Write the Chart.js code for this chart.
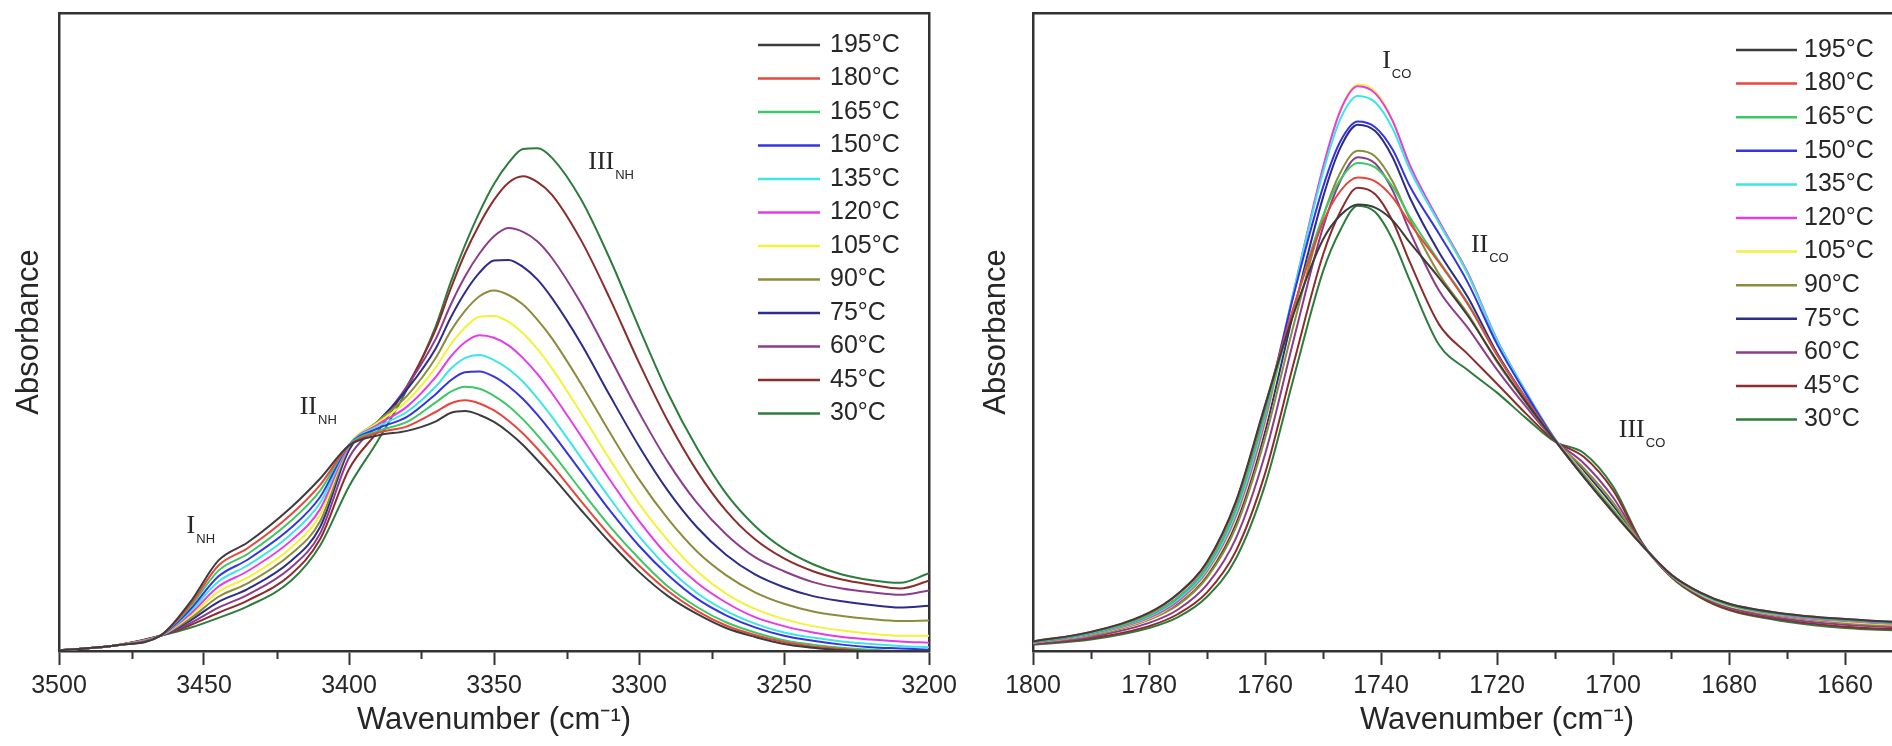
<!DOCTYPE html>
<html><head><meta charset="utf-8">
<script src="https://cdn.jsdelivr.net/npm/chart.js@4.4.0/dist/chart.umd.min.js"></script>
<style>
html,body{margin:0;padding:0;background:#fff;overflow:hidden;width:1892px;height:746px;position:relative;}
#cL{position:absolute;left:0;top:0;}
#cR{position:absolute;left:946px;top:0;}
</style></head><body>
<canvas id="cL" width="990" height="746"></canvas>
<canvas id="cR" width="1050" height="746"></canvas>
<script>
// ---------- data ----------
const temps = ['195°C','180°C','165°C','150°C','135°C','120°C','105°C','90°C','75°C','60°C','45°C','30°C'];
const colors = ['#3c3c3c','#e8463c','#3cc864','#3434e6','#3ce6e6','#e63ce6','#f2f23a','#8c8c3c','#2c2c8c','#8c3c8c','#8c2c2c','#2c7c3c'];

// N-H region (left panel)
const nhWavenumber = [3500,3480,3465,3455,3445,3435,3420,3410,3400,3390,3380,3370,3365,3360,3355,3350,3345,3340,3335,3330,3320,3310,3300,3290,3280,3270,3260,3250,3240,3230,3220,3210,3200];
const nh195 = [0.001,0.009,0.024,0.075,0.142,0.170,0.225,0.270,0.322,0.338,0.345,0.360,0.373,0.376,0.370,0.359,0.343,0.323,0.299,0.274,0.221,0.170,0.124,0.086,0.058,0.036,0.022,0.011,0.005,0.001,0.000,0.000,0.000];
const nh180 = [0.001,0.009,0.024,0.071,0.134,0.161,0.214,0.260,0.322,0.342,0.352,0.375,0.388,0.393,0.388,0.377,0.361,0.341,0.317,0.291,0.235,0.181,0.134,0.094,0.063,0.040,0.025,0.014,0.007,0.003,0.000,0.000,0.000];
const nh165 = [0.001,0.009,0.024,0.068,0.126,0.152,0.204,0.251,0.323,0.345,0.359,0.390,0.406,0.414,0.411,0.400,0.384,0.363,0.338,0.311,0.252,0.195,0.145,0.101,0.069,0.045,0.029,0.017,0.010,0.005,0.002,0.000,0.000];
const nh150 = [0.001,0.009,0.024,0.064,0.117,0.143,0.193,0.241,0.323,0.349,0.367,0.403,0.424,0.437,0.438,0.430,0.415,0.395,0.370,0.342,0.281,0.220,0.165,0.119,0.082,0.056,0.037,0.024,0.016,0.010,0.006,0.004,0.002];
const nh135 = [0.001,0.009,0.024,0.061,0.109,0.134,0.183,0.232,0.323,0.352,0.375,0.415,0.442,0.459,0.464,0.456,0.442,0.422,0.396,0.367,0.303,0.239,0.180,0.130,0.091,0.063,0.043,0.029,0.021,0.015,0.011,0.008,0.006];
const nh120 = [0.001,0.009,0.024,0.057,0.101,0.125,0.173,0.222,0.322,0.355,0.383,0.430,0.461,0.484,0.495,0.491,0.479,0.459,0.434,0.404,0.337,0.268,0.204,0.149,0.107,0.076,0.053,0.039,0.029,0.022,0.018,0.015,0.013];
const nh105 = [0.001,0.009,0.024,0.054,0.093,0.115,0.162,0.213,0.322,0.358,0.392,0.445,0.480,0.507,0.524,0.525,0.516,0.498,0.473,0.443,0.373,0.300,0.231,0.173,0.125,0.090,0.066,0.050,0.039,0.032,0.027,0.024,0.024];
const nh90  = [0.001,0.009,0.024,0.050,0.085,0.106,0.152,0.203,0.320,0.360,0.400,0.460,0.501,0.533,0.556,0.565,0.558,0.543,0.519,0.490,0.419,0.342,0.269,0.207,0.156,0.119,0.092,0.074,0.062,0.055,0.050,0.047,0.048];
const nh75  = [0.001,0.009,0.024,0.047,0.077,0.097,0.141,0.194,0.315,0.360,0.410,0.475,0.522,0.562,0.593,0.612,0.613,0.602,0.582,0.553,0.482,0.400,0.321,0.251,0.194,0.151,0.120,0.100,0.086,0.078,0.072,0.068,0.071];
const nh60  = [0.001,0.009,0.024,0.043,0.068,0.088,0.131,0.184,0.303,0.355,0.415,0.490,0.542,0.587,0.623,0.650,0.663,0.657,0.642,0.616,0.545,0.460,0.374,0.296,0.232,0.183,0.147,0.125,0.108,0.098,0.092,0.088,0.095];
const nh45  = [0.001,0.009,0.024,0.040,0.060,0.079,0.120,0.175,0.285,0.345,0.415,0.505,0.567,0.623,0.669,0.707,0.734,0.744,0.735,0.715,0.644,0.552,0.452,0.360,0.282,0.220,0.175,0.145,0.125,0.112,0.104,0.098,0.110];
const nh30  = [0.001,0.009,0.024,0.036,0.052,0.070,0.110,0.165,0.258,0.330,0.410,0.510,0.577,0.636,0.688,0.732,0.765,0.787,0.788,0.773,0.708,0.614,0.507,0.404,0.318,0.247,0.196,0.160,0.136,0.120,0.111,0.107,0.122];

// C=O region (right panel)
const coWavenumber = [1800,1790,1780,1775,1770,1765,1760,1755,1750,1747,1744,1741,1738,1735,1730,1725,1720,1715,1710,1705,1700,1695,1690,1685,1680,1670,1660,1650,1640];
const co195 = [0.015,0.030,0.060,0.090,0.140,0.235,0.385,0.530,0.645,0.683,0.700,0.695,0.675,0.640,0.585,0.525,0.455,0.390,0.330,0.272,0.218,0.166,0.120,0.092,0.074,0.058,0.050,0.045,0.042];
const co180 = [0.015,0.030,0.059,0.089,0.138,0.233,0.384,0.541,0.672,0.721,0.742,0.736,0.711,0.670,0.609,0.543,0.464,0.395,0.330,0.272,0.217,0.166,0.120,0.092,0.074,0.058,0.050,0.045,0.042];
const co165 = [0.014,0.028,0.056,0.084,0.132,0.223,0.371,0.538,0.682,0.739,0.765,0.758,0.728,0.680,0.611,0.545,0.464,0.395,0.330,0.275,0.221,0.166,0.120,0.091,0.073,0.057,0.049,0.044,0.041];
const co150 = [0.014,0.028,0.056,0.084,0.132,0.224,0.375,0.560,0.727,0.799,0.830,0.821,0.786,0.728,0.654,0.577,0.481,0.403,0.331,0.273,0.218,0.166,0.120,0.091,0.073,0.057,0.049,0.044,0.041];
const co135 = [0.014,0.027,0.054,0.081,0.128,0.217,0.368,0.566,0.750,0.834,0.870,0.860,0.819,0.754,0.671,0.590,0.487,0.406,0.332,0.274,0.219,0.166,0.120,0.090,0.072,0.056,0.048,0.043,0.040];
const co120 = [0.013,0.026,0.052,0.078,0.125,0.212,0.361,0.565,0.758,0.847,0.885,0.874,0.831,0.761,0.674,0.592,0.488,0.406,0.332,0.276,0.221,0.166,0.119,0.090,0.072,0.055,0.047,0.042,0.039];
const co105 = [0.013,0.026,0.051,0.077,0.122,0.207,0.355,0.561,0.757,0.848,0.888,0.877,0.832,0.760,0.671,0.589,0.486,0.405,0.332,0.278,0.223,0.166,0.119,0.089,0.071,0.055,0.046,0.041,0.039];
const co90  = [0.013,0.024,0.049,0.072,0.115,0.194,0.333,0.513,0.680,0.750,0.784,0.775,0.736,0.676,0.591,0.528,0.453,0.389,0.330,0.286,0.233,0.167,0.118,0.088,0.070,0.053,0.044,0.039,0.037];
const co75  = [0.013,0.025,0.050,0.075,0.119,0.201,0.344,0.534,0.711,0.789,0.825,0.815,0.774,0.710,0.625,0.554,0.467,0.396,0.331,0.282,0.228,0.167,0.119,0.089,0.070,0.054,0.045,0.040,0.038];
const co60  = [0.012,0.022,0.044,0.065,0.104,0.177,0.308,0.490,0.664,0.737,0.774,0.764,0.722,0.657,0.565,0.506,0.441,0.383,0.330,0.294,0.241,0.168,0.118,0.087,0.068,0.050,0.041,0.037,0.034];
const co45  = [0.011,0.020,0.039,0.058,0.092,0.157,0.278,0.453,0.621,0.689,0.726,0.716,0.674,0.609,0.512,0.465,0.419,0.372,0.329,0.304,0.252,0.169,0.117,0.085,0.065,0.048,0.038,0.034,0.032];
const co30  = [0.010,0.018,0.036,0.053,0.085,0.145,0.260,0.430,0.595,0.660,0.698,0.688,0.645,0.580,0.480,0.440,0.405,0.365,0.328,0.310,0.258,0.170,0.116,0.084,0.064,0.046,0.036,0.032,0.030];

// band labels (roman numeral, subscript, wavenumber, absorbance)
const nhBandMain = ['I','II','III'];
const nhBandSub  = ['NH','NH','NH'];
const nhBandX    = [3456, 3417, 3317.5];
const nhBandY    = [0.199, 0.386, 0.770];
const coBandMain = ['I','II','III'];
const coBandSub  = ['CO','CO','CO'];
const coBandX    = [1739.8, 1724.5, 1699.0];
const coBandY    = [0.928, 0.640, 0.350];

// ---------- drawing ----------
const SANS = '"Liberation Sans", Arial, Helvetica, sans-serif';
const SERIF = '"Liberation Serif", "Times New Roman", serif';
const INK = '#262626';
const FRAME = '#333333';

const overlay = {
  id: 'overlay',
  afterDraw(chart, args, o) {
    const ctx = chart.ctx;
    const xs = chart.scales.x, ys = chart.scales.y;
    const ca = chart.chartArea;
    ctx.save();
    // minor ticks
    ctx.strokeStyle = FRAME; ctx.lineWidth = 2;
    for (let v = xs.min; v <= xs.max + 1e-9; v += o.minorStep) {
      if (Math.abs(v % o.majorStep) < 1e-6) continue;
      const px = Math.round(xs.getPixelForValue(v)) + 0.5;
      ctx.beginPath(); ctx.moveTo(px, ca.bottom); ctx.lineTo(px, ca.bottom + o.minorLength); ctx.stroke();
    }
    // legend
    const L = o.legend;
    ctx.font = '25px ' + SANS; ctx.textBaseline = 'middle'; ctx.textAlign = 'left';
    chart.data.datasets.forEach((ds, i) => {
      const y = L.top + i * L.rowHeight;
      ctx.strokeStyle = ds.borderColor; ctx.lineWidth = 2.5;
      ctx.beginPath(); ctx.moveTo(L.lineStart, y); ctx.lineTo(L.lineEnd, y); ctx.stroke();
      ctx.fillStyle = INK;
      ctx.fillText(ds.label, L.textStart, y);
    });
    // band labels
    ctx.textBaseline = 'alphabetic';
    o.bands.main.forEach((m, i) => {
      const px = xs.getPixelForValue(o.bands.x[i]);
      const py = ys.getPixelForValue(o.bands.y[i]);
      ctx.font = '26px ' + SERIF; ctx.fillStyle = INK;
      ctx.fillText(m, px, py + 9);
      const w = ctx.measureText(m).width;
      ctx.font = '13px ' + SANS;
      ctx.fillText(o.bands.sub[i], px + w + 1, py + 19);
    });
    ctx.restore();
  }
};

function buildDatasets(wn, series) {
  return temps.map((t, i) => ({
    label: t,
    data: wn.map((w, j) => ({x: w, y: series[i][j]})),
    borderColor: colors[i],
    borderWidth: 2,
    pointRadius: 0,
    fill: false,
    cubicInterpolationMode: 'monotone'
  }));
}

function makeOptions(cfg) {
  const border = {display: true, color: FRAME, width: 2.5};
  return {
    responsive: false,
    animation: false,
    layout: {padding: {left: 0, top: 13, right: cfg.padRight, bottom: 0}},
    plugins: {
      legend: {display: false},
      tooltip: {enabled: false},
      overlay: cfg.overlay
    },
    scales: {
      x: {
        type: 'linear', position: 'bottom', reverse: true,
        min: cfg.min, max: cfg.max,
        ticks: {stepSize: cfg.step, autoSkip: false, maxRotation: 0, padding: 6,
                font: {family: SANS, size: 25}, color: INK, callback: v => String(v)},
        grid: {display: true, drawOnChartArea: false, drawTicks: true, tickLength: 14, tickWidth: 2, tickColor: FRAME},
        border: border,
        title: {display: true, text: 'Wavenumber (cm\u207B\u00B9)', font: {family: SANS, size: 31}, color: INK,
                padding: {top: 0, bottom: 7}},
        afterFit: s => { s.height = 95; s.paddingLeft = 0; s.paddingRight = 0; }
      },
      x2: {
        type: 'linear', position: 'top', reverse: true, min: cfg.min, max: cfg.max,
        ticks: {display: false}, grid: {display: false, drawTicks: false}, border: border,
        afterFit: s => { s.height = 0; s.paddingLeft = 0; s.paddingRight = 0; }
      },
      y: {
        type: 'linear', position: 'left', min: 0, max: 1,
        ticks: {display: false}, grid: {display: false, drawTicks: false}, border: border,
        title: {display: true, text: 'Absorbance', font: {family: SANS, size: 31}, color: INK,
                padding: {top: cfg.yTitlePad, bottom: 0}},
        afterFit: s => { s.width = cfg.yWidth; s.paddingTop = 0; s.paddingBottom = 0; }
      },
      y2: {
        type: 'linear', position: 'right', min: 0, max: 1,
        ticks: {display: false}, grid: {display: false, drawTicks: false}, border: border,
        afterFit: s => { s.width = 0; s.paddingTop = 0; s.paddingBottom = 0; }
      }
    }
  };
}

new Chart(document.getElementById('cL'), {
  type: 'line',
  data: {datasets: buildDatasets(nhWavenumber, [nh195, nh180, nh165, nh150, nh135, nh120, nh105, nh90, nh75, nh60, nh45, nh30])},
  options: makeOptions({
    min: 3200, max: 3500, step: 50, padRight: 990 - 929, yWidth: 59, yTitlePad: 11,
    overlay: {minorStep: 25, majorStep: 50, minorLength: 8,
      legend: {top: 45, rowHeight: 33.5, lineStart: 758, lineEnd: 820, textStart: 830},
      bands: {main: nhBandMain, sub: nhBandSub, x: nhBandX, y: nhBandY}}
  }),
  plugins: [overlay]
});

new Chart(document.getElementById('cR'), {
  type: 'line',
  data: {datasets: buildDatasets(coWavenumber, [co195, co180, co165, co150, co135, co120, co105, co90, co75, co60, co45, co30])},
  options: makeOptions({
    min: 1640, max: 1800, step: 20, padRight: 1050 - (1961 - 946), yWidth: 87, yTitlePad: 32,
    overlay: {minorStep: 10, majorStep: 20, minorLength: 8,
      legend: {top: 50, rowHeight: 33.6, lineStart: 790, lineEnd: 851, textStart: 858},
      bands: {main: coBandMain, sub: coBandSub, x: coBandX, y: coBandY}}
  }),
  plugins: [overlay]
});
</script>
</body></html>
